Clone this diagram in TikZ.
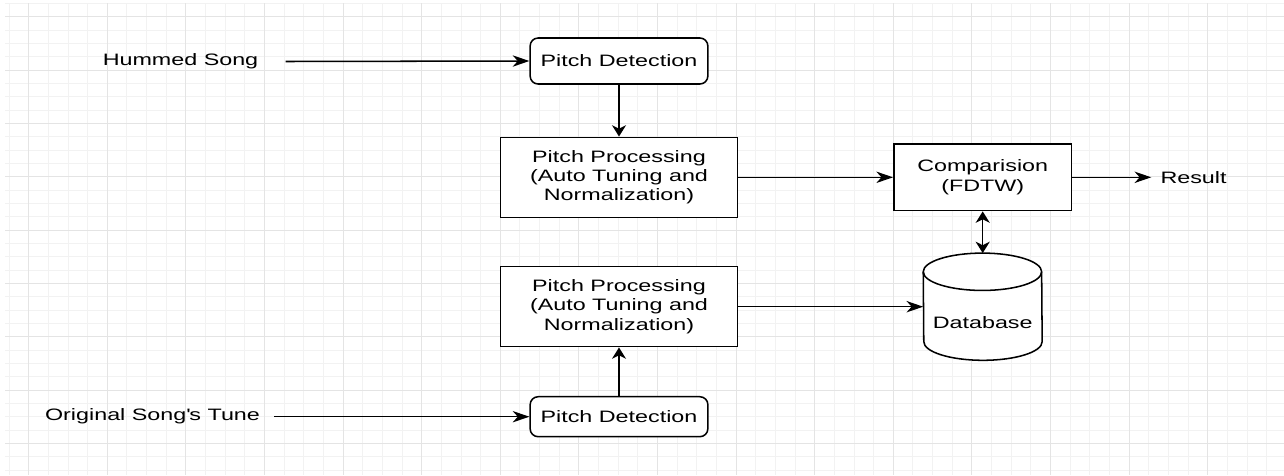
\documentclass[tikz,border=0pt]{standalone}
\usepackage{fontspec}
\setmainfont[FakeStretch=1.41]{Liberation Sans}
\usetikzlibrary{arrows.meta,calc}
\definecolor{gridminor}{HTML}{F2F2F2}
\definecolor{gridmajor}{HTML}{E4E4E4}
\begin{document}
\begin{tikzpicture}[x=0.75pt,y=-0.75pt,
  every node/.style={font=\fontsize{12.4pt}{14.4pt}\selectfont, text=black},
  blk/.style={draw, line width=1.15pt, align=center, inner sep=0pt, fill=white},
  pdbox/.style={blk, rounded corners=6pt, minimum width=133.3pt},
  ppbox/.style={blk, minimum width=177.5pt, minimum height=60pt},
  lbl/.style={inner ysep=0pt},
  conn/.style={line width=1.15pt},
  htip/.tip={Stealth[length=12.5pt,width=8.5pt,inset=3.8pt]},
  vtip/.tip={Stealth[length=8.5pt,width=10.5pt,inset=2.6pt]},
  harr/.style={conn, -htip},
  varr/.style={conn, -vtip},
  dvarr/.style={conn, vtip-vtip},
  cyl/.style={line width=1.15pt},
  ]
\useasboundingbox (0,0) rectangle (1284,475);
\fill[white] (0,0) rectangle (1284,475);
% grid
\begin{scope}
\clip (5,3) rectangle (1284,475);
\foreach \k in {-1,...,64} {
  \draw[gridminor, line width=0.75pt] ({28.7+19.65*\k},0) -- ({28.7+19.65*\k},475);
}
\foreach \k in {-1,...,35} {
  \draw[gridminor, line width=0.75pt] (0,{16.7+13.333*\k}) -- (1284,{16.7+13.333*\k});
}
\foreach \k in {0,...,16} {
  \draw[gridmajor, line width=0.75pt] ({28.7+78.6*\k},0) -- ({28.7+78.6*\k},475);
}
\foreach \k in {0,...,8} {
  \draw[gridmajor, line width=0.75pt] (0,{16.7+53.333*\k}) -- (1284,{16.7+53.333*\k});
}
\end{scope}

% nodes
\node[pdbox, minimum height=34.5pt] (pd1) at (619,61) {Pitch Detection};
\node[ppbox] (pp1) at (619,177.3) {Pitch Processing\\(Auto Tuning and\\Normalization)};
\node[ppbox] (pp2) at (619,306.7) {Pitch Processing\\(Auto Tuning and\\Normalization)};
\node[pdbox, minimum height=30pt] (pd2) at (619,416.7) {Pitch Detection};
\node[blk, minimum width=133.3pt, minimum height=50pt] (cmp) at (982.7,177.3) {Comparision\\(FDTW)};
\node[inner sep=0pt, minimum width=88.8pt, minimum height=80pt] (db) at (982.7,306.7) {};

\node[lbl, inner xsep=20.25pt] (hum) at (180.5,61.5) {Hummed Song};
\node[lbl, inner xsep=10.5pt] (orig) at (152.5,416.7) {Original Song\textquotesingle s Tune};
\node[lbl, inner xsep=6.75pt, anchor=west] (res) at (1151.25,177.3) {Result};

% cylinder
\draw[cyl, fill=white] ([yshift=-14pt]db.north west)
  arc[start angle=180, end angle=0, x radius=44.4pt, y radius=14pt]
  -- ([yshift=14pt]db.south east)
  arc[start angle=0, end angle=-180, x radius=44.4pt, y radius=14pt]
  -- cycle;
\draw[cyl] ([yshift=-14pt]db.north west)
  arc[start angle=180, end angle=360, x radius=44.4pt, y radius=14pt];
\node[inner sep=0pt] (dbt) at ([yshift=-12pt]db.center) {Database};

% connectors
\draw[harr] (hum.east) -- (pd1.west);
\draw[harr] (orig.east) -- (pd2.west);
\draw[varr] (pd1.south) -- (pp1.north);
\draw[varr] (pd2.north) -- (pp2.south);
\draw[harr] (pp1.east) -- (cmp.west);
\draw[harr] (pp2.east) -- (db.west);
\draw[harr] (cmp.east) -- (res.west);
\draw[dvarr] (cmp.south) -- (db.north);
\end{tikzpicture}
\end{document}
